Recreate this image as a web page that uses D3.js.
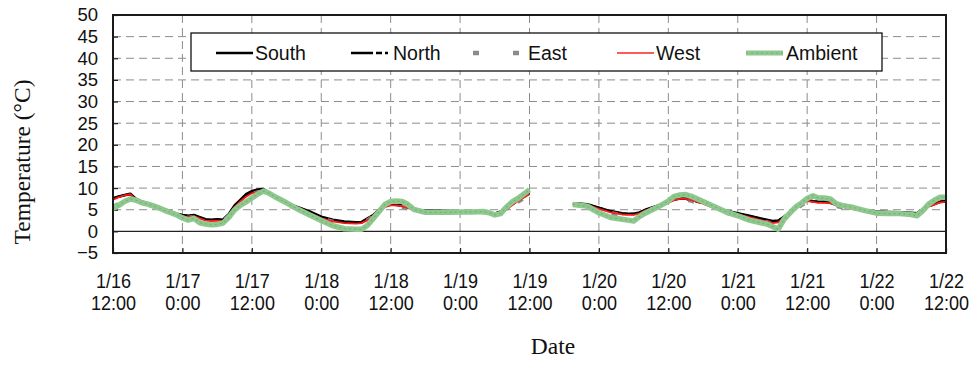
<!DOCTYPE html>
<html>
<head>
<meta charset="utf-8">
<script src="https://cdn.jsdelivr.net/npm/d3@7"></script>
<style>
  html, body { margin: 0; padding: 0; background: #fff; }
  svg { display: block; }
  .ylab text { font-family: "Liberation Sans", Arial, sans-serif; font-size: 18.5px; fill: #111; }
  .xlab text { font-family: "Liberation Sans", Arial, sans-serif; font-size: 21px; fill: #111; }
  .title { font-family: "Liberation Serif", "Times New Roman", serif; font-size: 23.5px; fill: #111; }
  .legend text { font-family: "Liberation Sans", Arial, sans-serif; font-size: 19.5px; fill: #111; }
</style>
</head>
<body>
<svg id="chart" width="976" height="365"></svg>
<script>
// Hours elapsed since 1/16 12:00; null readings mark the logger outage on 1/19.
const hours = [
  0,1,2,3,4,5,6,7,8,9,10,11,12,13,14,15,16,17,18,19,20,21,22,23,24,25,26,27,28,29,30,
  32,34,36,38,40,42,
  43,44,45,46,47,48,49,50,51,52,
  54,56,58,60,62,64,
  65,66,67,68,69,70,71,72,
  76,
  79.5,81,82,84,86,88,89,90,91,92,94,96,97,98,99,100,
  102,104,106,108,110,112,
  113,114,115,116,117,118,119,120,121,122,123,124,125,126,
  128,130,132,134,136,138,
  139,140,141,142,143,144
];

const south = [
  7.7,8.1,8.4,8.7,7.5,6.9,6.5,6.1,5.6,5.1,4.6,4.1,3.8,3.6,3.8,3.3,2.8,2.7,2.8,2.7,4.0,6.0,7.3,8.6,9.3,9.7,9.8,9.0,8.0,7.2,6.5,
  5.6,4.6,3.4,2.7,2.3,2.1,
  2.2,3.0,3.8,5.0,5.9,6.3,6.2,6.0,5.6,5.0,
  4.8,4.8,4.7,4.6,4.6,4.6,
  4.4,4.1,4.6,5.2,6.3,7.3,8.1,8.9,
  null,
  6.5,6.4,6.3,5.5,4.7,4.2,4.1,4.1,4.4,5.0,5.9,6.8,7.4,7.7,7.6,7.3,
  6.6,5.6,4.8,4.2,3.6,3.0,
  2.7,2.4,2.5,3.4,4.4,5.5,6.5,7.4,7.0,6.9,6.9,6.7,6.2,5.9,
  5.3,4.9,4.6,4.5,4.4,4.3,
  4.2,5.2,5.9,6.4,6.9,7.0
];

const north = [
  7.5,8.0,8.3,8.6,7.4,6.8,6.4,6.0,5.5,5.0,4.5,4.0,3.7,3.5,3.7,3.2,2.7,2.6,2.7,2.6,3.9,5.8,7.1,8.4,9.1,9.5,9.6,8.9,7.9,7.1,6.4,
  5.5,4.4,3.2,2.5,2.1,2.0,
  2.1,2.8,3.7,4.9,5.8,6.2,6.1,5.9,5.5,5.0,
  4.8,4.8,4.7,4.6,4.6,4.6,
  4.4,4.1,4.5,5.1,6.2,7.2,8.0,8.8,
  null,
  6.4,6.3,6.2,5.4,4.6,4.1,4.0,4.0,4.3,4.9,5.8,6.7,7.3,7.6,7.5,7.2,
  6.5,5.5,4.7,4.1,3.5,2.9,
  2.6,2.3,2.4,3.3,4.3,5.4,6.4,7.3,6.9,6.8,6.8,6.6,6.1,5.8,
  5.2,4.8,4.5,4.4,4.3,4.2,
  4.1,5.1,5.8,6.3,6.8,6.9
];

const east = [
  5.6,6.3,7.2,7.8,7.1,6.5,6.2,5.8,5.3,4.8,4.3,3.8,3.4,3.1,3.3,2.8,2.3,2.2,2.3,2.2,3.5,5.4,6.7,7.8,8.6,9.0,9.2,8.6,7.7,6.9,6.2,
  5.2,4.1,2.9,2.2,1.8,1.7,
  1.8,2.5,3.4,4.6,5.5,5.9,5.9,5.7,5.3,4.8,
  4.6,4.6,4.5,4.5,4.5,4.5,
  4.3,3.9,4.3,4.9,5.9,6.9,7.7,8.5,
  null,
  6.2,6.1,5.9,5.0,4.2,3.7,3.6,3.6,3.9,4.6,5.5,6.5,7.1,7.4,7.4,7.1,
  6.2,5.1,4.3,3.7,3.1,2.4,
  2.1,1.7,1.9,2.9,4.0,5.1,6.1,6.9,6.7,6.5,6.5,6.4,5.9,5.6,
  5.0,4.6,4.3,4.2,4.1,4.0,
  3.9,4.9,5.6,6.1,6.6,6.7
];

const west = [
  7.3,7.9,8.3,8.6,7.3,6.7,6.3,5.9,5.4,4.9,4.4,3.9,3.5,3.3,3.5,3.0,2.5,2.4,2.5,2.4,3.7,5.6,6.9,8.0,8.8,9.2,9.4,8.8,7.8,7.0,6.3,
  5.3,4.2,3.0,2.3,1.9,1.8,
  1.9,2.6,3.5,4.7,5.6,6.0,6.0,5.8,5.4,4.9,
  4.7,4.7,4.6,4.5,4.5,4.5,
  4.3,4.0,4.4,5.0,6.0,7.0,7.8,8.6,
  null,
  6.3,6.2,6.1,5.2,4.4,3.9,3.8,3.8,4.1,4.8,5.7,6.6,7.2,7.5,7.5,7.2,
  6.4,5.3,4.5,3.9,3.3,2.6,
  2.3,1.9,2.1,3.1,4.1,5.2,6.2,7.0,6.8,6.6,6.6,6.5,6.0,5.7,
  5.1,4.7,4.4,4.3,4.2,4.1,
  4.0,5.0,5.7,6.2,6.7,6.8
];

const ambient = [
  5.3,6.0,6.9,7.5,7.2,6.6,6.3,5.9,5.4,4.8,4.3,3.8,3.1,2.6,3.0,2.0,1.7,1.5,1.6,1.9,3.2,4.9,6.0,6.8,7.7,8.6,9.3,8.8,8.0,7.3,6.6,
  5.1,3.8,2.5,1.3,0.6,0.5,
  0.5,1.4,3.0,4.6,6.2,6.9,7.0,6.9,6.2,5.1,
  4.4,4.4,4.4,4.5,4.5,4.6,
  4.3,3.8,4.1,5.6,6.8,7.6,8.6,9.6,
  null,
  6.2,6.0,5.8,4.3,3.2,2.8,2.6,2.4,3.4,4.2,5.5,7.0,8.1,8.4,8.5,8.1,
  6.9,5.7,4.5,3.6,2.6,2.0,
  1.7,1.1,0.5,2.8,4.2,5.6,6.5,7.6,8.2,7.7,7.7,7.5,6.4,6.0,
  5.5,4.8,4.2,4.1,4.1,3.9,
  3.6,4.8,6.3,7.2,7.9,7.9
];

const yTicks = [-5,0,5,10,15,20,25,30,35,40,45,50];
const xTickHours = [0,12,24,36,48,60,72,84,96,108,120,132,144];
const seriesNames = ["South","North","East","West","Ambient"];

// Line styles per series
const styles = {
  South:   { color: "#000",    width: 2.4, dash: null },
  North:   { color: "#000",    width: 2.4, dash: "22,3,6,3" },
  East:    { color: "#8a8a8a", width: 4.5, dash: "6,34" },
  West:    { color: "#ff1a1a", width: 1.8, dash: null },
  Ambient: { color: "#8fc88f", width: 5.5, dash: null }
};
const values = { South: south, North: north, East: east, West: west, Ambient: ambient };

const start = new Date(2015, 0, 16, 12, 0, 0);
const toDate = h => new Date(start.getTime() + h * 3600 * 1000);

const svg = d3.select("#chart");
const m = { left: 113, right: 946, top: 15, bottom: 253 };

const x = d3.scaleTime()
  .domain([toDate(0), toDate(144)])
  .range([m.left, m.right]);
const y = d3.scaleLinear()
  .domain([-5, 50])
  .range([m.bottom, m.top]);

// Dashed grid
const grid = svg.append("g").attr("class", "grid");
grid.selectAll("line.h")
  .data(yTicks.filter(v => v !== -5 && v !== 50 && v !== 0))
  .join("line")
  .attr("x1", m.left).attr("x2", m.right)
  .attr("y1", d => y(d)).attr("y2", d => y(d))
  .attr("stroke", "#8c8c8c").attr("stroke-width", 1)
  .attr("stroke-dasharray", "8,5");
grid.selectAll("line.v")
  .data(xTickHours.slice(1, -1))
  .join("line")
  .attr("x1", d => x(toDate(d))).attr("x2", d => x(toDate(d)))
  .attr("y1", m.top).attr("y2", m.bottom)
  .attr("stroke", "#8c8c8c").attr("stroke-width", 1)
  .attr("stroke-dasharray", "8,5");

// Zero reference line
svg.append("line")
  .attr("x1", m.left).attr("x2", m.right)
  .attr("y1", y(0)).attr("y2", y(0))
  .attr("stroke", "#222").attr("stroke-width", 1.2);

// Axes with inward ticks
const yAxis = d3.axisLeft(y).tickValues(yTicks).tickSize(-5).tickPadding(15).tickFormat(d3.format("d"));
const gy = svg.append("g").attr("class", "ylab").attr("transform", `translate(${m.left},0)`).call(yAxis);
gy.select(".domain").remove();
gy.selectAll(".tick line").attr("stroke", "#222").attr("stroke-width", 1.2);
gy.selectAll(".tick text").attr("font-family", null).attr("font-size", null).text(d => d < 0 ? "\u2212" + Math.abs(d) : d);

const fmtDay = d3.timeFormat("%-m/%-d");
const fmtTime = d3.timeFormat("%-H:%M");
const xAxis = d3.axisBottom(x).tickValues(xTickHours.map(toDate)).tickSize(-5);
const gx = svg.append("g").attr("class", "xlab").attr("transform", `translate(0,${m.bottom})`).call(xAxis);
gx.select(".domain").remove();
gx.selectAll(".tick line").attr("stroke", "#222").attr("stroke-width", 1.2);
gx.selectAll(".tick text")
  .attr("font-family", null).attr("font-size", null)
  .attr("y", 35).attr("dy", 0)
  .attr("transform", "scale(0.86,1)")
  .each(function (d) {
    const t = d3.select(this);
    t.text(null);
    t.append("tspan").attr("x", 0).attr("dy", 0).text(fmtDay(d));
    t.append("tspan").attr("x", 0).attr("dy", 22).text(fmtTime(d));
  });

// Series lines
const line = d3.line()
  .defined(d => d.v !== null)
  .x(d => x(toDate(d.h)))
  .y(d => y(d.v));

const plot = svg.append("g").attr("class", "series");
seriesNames.forEach(name => {
  const pts = hours.map((h, i) => ({ h, v: values[name][i] }));
  const s = styles[name];
  plot.append("path")
    .datum(pts)
    .attr("d", line)
    .attr("fill", "none")
    .attr("stroke", s.color)
    .attr("stroke-width", s.width)
    .attr("stroke-linejoin", "round")
    .attr("stroke-dasharray", s.dash);
  if (name === "Ambient") {
    plot.append("path")
      .datum(pts)
      .attr("d", line)
      .attr("fill", "none")
      .attr("stroke", "#74b374")
      .attr("stroke-width", 1.2)
      .attr("stroke-dasharray", "2,3");
  }
});

// Plot frame
svg.append("rect")
  .attr("x", m.left).attr("y", m.top)
  .attr("width", m.right - m.left).attr("height", m.bottom - m.top)
  .attr("fill", "none").attr("stroke", "#1a1a1a").attr("stroke-width", 2);

// Axis titles
svg.append("text").attr("class", "title")
  .attr("transform", "translate(30,162) rotate(-90)")
  .attr("text-anchor", "middle")
  .text("Temperature (\u00B0C)");
svg.append("text").attr("class", "title")
  .attr("x", 553).attr("y", 354)
  .attr("text-anchor", "middle")
  .text("Date");

// Legend
const legend = svg.append("g").attr("class", "legend");
legend.append("rect")
  .attr("x", 191).attr("y", 33).attr("width", 691).attr("height", 38)
  .attr("fill", "#fff").attr("stroke", "#111").attr("stroke-width", 1.3);
const legendX = [216, 351, 473, 617, 746];
const legendY = 53;
seriesNames.forEach((name, i) => {
  const s = styles[name];
  const g = legend.append("g").attr("transform", `translate(${legendX[i]},${legendY})`);
  g.append("line").attr("x1", 0).attr("x2", name === "East" ? 46 : 37).attr("y1", 0).attr("y2", 0)
    .attr("stroke", name === "West" ? "#ff5a5a" : s.color)
    .attr("stroke-width", name === "Ambient" ? 5 : s.width)
    .attr("stroke-dasharray", s.dash);
  if (name === "Ambient") {
    g.append("line").attr("x1", 0).attr("x2", 37).attr("y1", 0).attr("y2", 0)
      .attr("stroke", "#74b374").attr("stroke-width", 1.2).attr("stroke-dasharray", "2,3");
  }
  const tx = [39, 42, 55, 39, 40][i];
  g.append("text").attr("x", tx).attr("y", 0).attr("dy", "0.36em").text(name);
});
</script>
</body>
</html>
